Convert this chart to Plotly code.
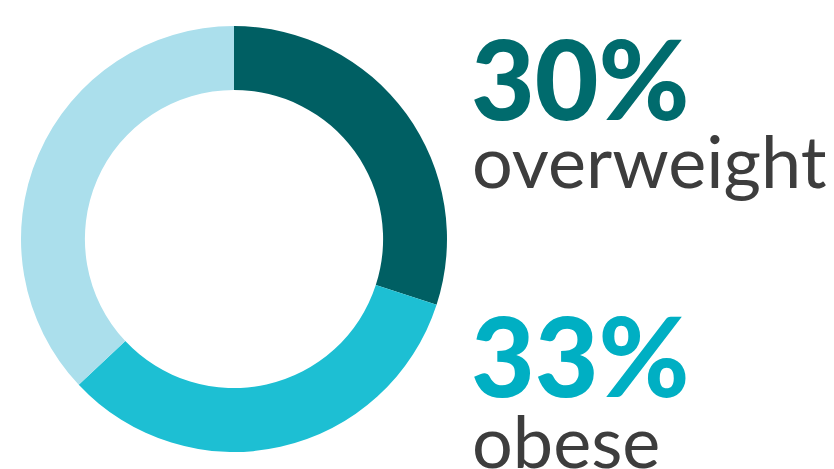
import plotly.graph_objects as go

labels = ["overweight", "obese", "other"]
values = [30, 33, 37]
colors = ["#005F63", "#1DBFD3", "#ABDFEC"]
pct_labels = ["30%", "33%"]
word_labels = ["overweight", "obese"]
text_colors = ["#006B6D", "#00AFC3"]

# page body has an 8px margin, so the figure is offset by 8px
W, H = 826, 461
OFF = 8

def fx(x):
    return (x - OFF) / W

def fy(y):
    return 1 - (y - OFF) / H

fig = go.Figure()
fig.add_trace(go.Pie(
    labels=labels, values=values, sort=False, direction="clockwise", rotation=0,
    hole=0.70, marker=dict(colors=colors, line=dict(width=0)),
    textinfo="none", hoverinfo="label+percent", showlegend=False,
    domain=dict(x=[fx(21), fx(447)], y=[fy(453), fy(25)]),
))

pct_pos = [(469, 77), (469, 354)]
word_pos = [(470, 160), (470, 440)]
for i in range(2):
    fig.add_annotation(x=fx(pct_pos[i][0]), y=fy(pct_pos[i][1]), xref="paper", yref="paper",
                       text=pct_labels[i], showarrow=False, xanchor="left", yanchor="middle",
                       font=dict(family="Lato", size=110, color=text_colors[i], weight=900))
    fig.add_annotation(x=fx(word_pos[i][0]), y=fy(word_pos[i][1]), xref="paper", yref="paper",
                       text=word_labels[i], showarrow=False, xanchor="left", yanchor="middle",
                       font=dict(family="Lato", size=72, color="#3D3D3D"))

fig.update_layout(width=W, height=H, margin=dict(l=0, r=0, t=0, b=0),
                  paper_bgcolor="white", plot_bgcolor="white")
fig.write_html("out.html")
